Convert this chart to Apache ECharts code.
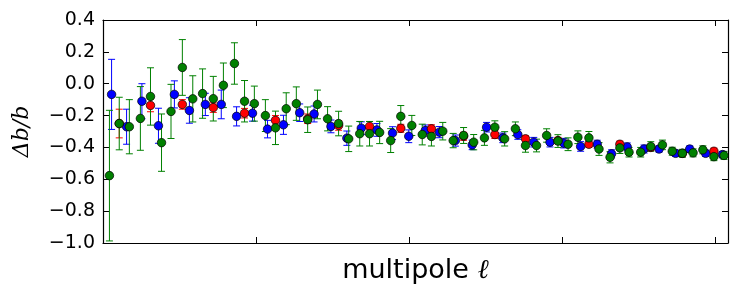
<!DOCTYPE html>
<html>
<head>
<meta charset="utf-8">
<script src="https://cdn.jsdelivr.net/npm/echarts@6/dist/echarts.min.js"></script>
<style>html,body{margin:0;padding:0;background:#fff;}#c{width:738px;height:298px;}</style>
</head>
<body>
<div id="c"></div>
<script>
// Multipole positions (ℓ) and values
const blueL = [28, 77, 127, 181, 233, 282, 334, 386, 436, 488, 537, 589, 642, 689, 744, 796, 843, 894, 945, 998, 1052, 1098, 1150, 1205, 1252, 1305, 1354, 1406, 1459, 1504, 1559, 1613, 1660, 1711, 1766, 1815, 1869, 1915, 1967, 2022];
const blueY = [-0.067, -0.27, -0.11, -0.264, -0.067, -0.168, -0.13, -0.13, -0.205, -0.185, -0.285, -0.258, -0.182, -0.19, -0.268, -0.342, -0.279, -0.29, -0.31, -0.33, -0.294, -0.304, -0.357, -0.384, -0.273, -0.34, -0.319, -0.367, -0.367, -0.373, -0.394, -0.38, -0.44, -0.397, -0.41, -0.41, -0.437, -0.41, -0.437, -0.445];
const blueErr = [0.22, 0.11, 0.11, 0.11, 0.085, 0.08, 0.07, 0.09, 0.06, 0.05, 0.055, 0.06, 0.055, 0.05, 0.04, 0.045, 0.04, 0.04, 0.04, 0.04, 0.035, 0.035, 0.035, 0.03, 0.03, 0.03, 0.03, 0.03, 0.03, 0.03, 0.03, 0.025, 0.025, 0.025, 0.025, 0.02, 0.02, 0.02, 0.02, 0.02];

const redL = [53, 155, 259, 360, 462, 563, 668, 769, 870, 972, 1072, 1177, 1279, 1379, 1485, 1586, 1687, 1788, 1891, 1994];
const redY = [-0.25, -0.136, -0.13, -0.15, -0.185, -0.23, -0.22, -0.262, -0.268, -0.28, -0.283, -0.33, -0.319, -0.346, -0.357, -0.38, -0.38, -0.40, -0.437, -0.424];
const redErr = [0.09, 0.04, 0.03, 0.03, 0.03, 0.03, 0.03, 0.03, 0.03, 0.025, 0.025, 0.025, 0.025, 0.02, 0.02, 0.02, 0.02, 0.02, 0.02, 0.02];

const greenL = [21, 53, 86, 122, 155, 191, 222, 259, 293, 325, 360, 393, 429, 462, 494, 530, 563, 598, 631, 668, 700, 733, 769, 802, 838, 870, 903, 939, 972, 1008, 1042, 1072, 1109, 1143, 1177, 1210, 1245, 1279, 1311, 1346, 1379, 1415, 1448, 1485, 1518, 1550, 1586, 1619, 1655, 1687, 1717, 1755, 1788, 1826, 1858, 1891, 1926, 1958, 1994, 2027];
const greenY = [-0.577, -0.25, -0.27, -0.218, -0.08, -0.37, -0.174, 0.102, -0.095, -0.062, -0.094, -0.01, 0.127, -0.11, -0.125, -0.2, -0.277, -0.157, -0.125, -0.226, -0.13, -0.22, -0.25, -0.346, -0.314, -0.314, -0.306, -0.357, -0.205, -0.262, -0.319, -0.331, -0.298, -0.357, -0.325, -0.367, -0.34, -0.273, -0.346, -0.283, -0.388, -0.388, -0.325, -0.36, -0.38, -0.336, -0.34, -0.41, -0.462, -0.403, -0.43, -0.43, -0.394, -0.384, -0.424, -0.437, -0.434, -0.415, -0.458, -0.45];
const greenErr = [0.41, 0.165, 0.17, 0.2, 0.18, 0.18, 0.17, 0.175, 0.145, 0.155, 0.14, 0.14, 0.13, 0.13, 0.11, 0.1, 0.105, 0.1, 0.105, 0.08, 0.09, 0.076, 0.077, 0.08, 0.077, 0.077, 0.07, 0.075, 0.068, 0.063, 0.065, 0.06, 0.055, 0.045, 0.05, 0.048, 0.047, 0.04, 0.045, 0.043, 0.042, 0.04, 0.042, 0.04, 0.04, 0.04, 0.04, 0.04, 0.035, 0.035, 0.03, 0.03, 0.03, 0.03, 0.025, 0.025, 0.025, 0.025, 0.025, 0.025];

const yTicks = {min: -1.0, max: 0.4, interval: 0.2};
const xRange = {min: 0, max: 2040, interval: 500};

function zip(L, Y, E) { return L.map((l, i) => [l, Y[i], E[i]]); }

function errSeries(data, color) {
  return {
    type: 'custom',
    data: data,
    xAxisIndex: 0, yAxisIndex: 0,
    silent: true,
    renderItem: function (params, api) {
      const x = api.value(0), y = api.value(1), e = api.value(2);
      const top = api.coord([x, y + e]);
      const bot = api.coord([x, y - e]);
      const cw = 3.5;
      const st = {stroke: color, lineWidth: 1};
      return {
        type: 'group',
        children: [
          {type: 'line', shape: {x1: top[0], y1: top[1], x2: bot[0], y2: bot[1]}, style: st},
          {type: 'line', shape: {x1: top[0] - cw, y1: top[1], x2: top[0] + cw, y2: top[1]}, style: st},
          {type: 'line', shape: {x1: bot[0] - cw, y1: bot[1], x2: bot[0] + cw, y2: bot[1]}, style: st}
        ]
      };
    }
  };
}
function dotSeries(data, color) {
  return {
    type: 'scatter',
    data: data.map(d => [d[0], d[1]]),
    xAxisIndex: 0, yAxisIndex: 0,
    symbol: 'circle',
    symbolSize: 8.5,
    itemStyle: {color: color, borderColor: '#000', borderWidth: 0.7, opacity: 1},
    emphasis: {disabled: true}
  };
}

const fmtY = v => {
  if (Math.abs(v) < 1e-9) return '0.0';
  return (v < 0 ? '\u2212' : '') + Math.abs(v).toFixed(1);
};

const chart = echarts.init(document.getElementById('c'), null, {renderer: 'canvas'});
const axisLine = {show: true, onZero: false, lineStyle: {color: '#000', width: 1.2}};
chart.setOption({
  animation: false,
  backgroundColor: '#fff',
  grid: {left: 103, right: 10, top: 20, bottom: 55, containLabel: false},
  xAxis: [
    {type: 'value', min: xRange.min, max: xRange.max, interval: xRange.interval, position: 'bottom',
     axisLine: axisLine, axisTick: {show: true, inside: true, length: 6, lineStyle: {color: '#000'}},
     axisLabel: {show: false}, splitLine: {show: false},
     name: '{a|multipole }{b|ℓ}', nameLocation: 'middle', nameGap: 14,
     nameTextStyle: {rich: {
       a: {fontFamily: 'DejaVu Sans', fontSize: 27, color: '#000'},
       b: {fontFamily: 'DejaVu Serif', fontStyle: 'italic', fontSize: 27, color: '#000'}
     }}},
    {type: 'value', min: xRange.min, max: xRange.max, interval: xRange.interval, position: 'top',
     axisLine: axisLine, axisTick: {show: true, inside: true, length: 6, lineStyle: {color: '#000'}},
     axisLabel: {show: false}, splitLine: {show: false}}
  ],
  yAxis: [
    {type: 'value', min: yTicks.min, max: yTicks.max, interval: yTicks.interval, position: 'left',
     axisLine: axisLine, axisTick: {show: true, inside: true, length: 6, lineStyle: {color: '#000'}},
     axisLabel: {show: true, formatter: fmtY, fontFamily: 'DejaVu Sans', fontSize: 19, color: '#000', margin: 8},
     splitLine: {show: false},
     name: 'Δb/b', nameLocation: 'middle', nameGap: 70, nameRotate: 90,
     nameTextStyle: {fontFamily: 'DejaVu Serif', fontStyle: 'italic', fontSize: 22, color: '#000'}},
    {type: 'value', min: yTicks.min, max: yTicks.max, interval: yTicks.interval, position: 'right',
     axisLine: axisLine, axisTick: {show: true, inside: true, length: 6, lineStyle: {color: '#000'}},
     axisLabel: {show: false}, splitLine: {show: false}}
  ],
  series: [
    errSeries(zip(blueL, blueY, blueErr), '#0000ff'),
    dotSeries(zip(blueL, blueY, blueErr), '#0000ff'),
    errSeries(zip(redL, redY, redErr), '#ff0000'),
    dotSeries(zip(redL, redY, redErr), '#ff0000'),
    errSeries(zip(greenL, greenY, greenErr), '#008000'),
    dotSeries(zip(greenL, greenY, greenErr), '#008000')
  ]
});
</script>
</body>
</html>
